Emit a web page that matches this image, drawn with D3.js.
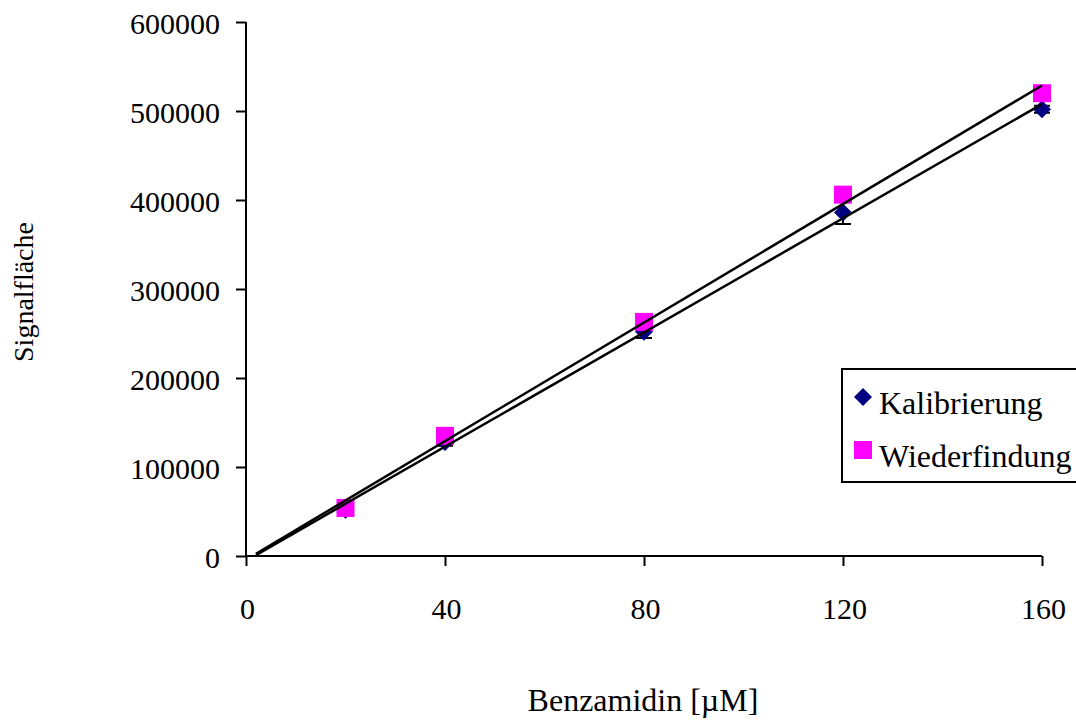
<!DOCTYPE html>
<html>
<head>
<meta charset="utf-8">
<script src="https://cdn.jsdelivr.net/npm/d3@7"></script>
<style>
  html, body { margin: 0; padding: 0; background: #fff; }
  svg text { font-family: "Liberation Serif", "Times New Roman", serif; font-size: 30px; fill: #000; }
</style>
</head>
<body>
<svg id="chart" width="1076" height="720"></svg>
<script>
// ---- data ----
const concentrations = [20, 40, 80, 120, 160];
const kalibrierung = [52000, 128000, 252000, 386000, 502000];
const kalibrierungErr = [3000, 4000, 7000, 13000, 4000];
const wiederfindung = [54000, 135000, 263000, 406000, 520000];
const trendX = [2, 160];
const trendKalibrierung = [1000, 507800];
const trendWiederfindung = [2500, 528700];
const xTicks = [0, 40, 80, 120, 160];
const yTicks = [0, 100000, 200000, 300000, 400000, 500000, 600000];
const seriesNames = ["Kalibrierung", "Wiederfindung"];
const seriesColors = ["#000080", "#FF00FF"];

const svg = d3.select("#chart");
const x = d3.scaleLinear().domain([0, 160]).range([246, 1042]);
const y = d3.scaleLinear().domain([0, 600000]).range([556, 22]);

// axes
const yAxis = svg.append("g").attr("transform", `translate(${x(0)},0)`)
  .call(d3.axisLeft(y).tickValues(yTicks).tickSize(10).tickPadding(0).tickFormat(d3.format("d")));
const xAxis = svg.append("g").attr("transform", `translate(0,${y(0)})`)
  .call(d3.axisBottom(x).tickValues(xTicks).tickSize(10).tickPadding(0).tickFormat(d3.format("d")));
[yAxis, xAxis].forEach(a => {
  a.attr("font-size", null).attr("font-family", null);
  a.select(".domain").attr("stroke", "#000").attr("stroke-width", 2);
  a.selectAll(".tick line").attr("stroke", "#000").attr("stroke-width", 2);
});
yAxis.select(".domain").attr("d", `M0,${y(600000)}V${y(0)}`);
xAxis.select(".domain").attr("d", `M${x(0)},0H${x(160)}`);
yAxis.selectAll(".tick text")
  .attr("x", -26).attr("dy", null).attr("y", 11)
  .attr("text-anchor", "end");
xAxis.selectAll(".tick text")
  .attr("x", 1).attr("dy", null).attr("y", 63)
  .attr("text-anchor", "middle");

// error bars (Kalibrierung)
const eb = svg.append("g");
concentrations.forEach((c, i) => {
  const cx = x(c), lo = y(kalibrierung[i] - kalibrierungErr[i]), hi = y(kalibrierung[i] + kalibrierungErr[i]);
  eb.append("path")
    .attr("d", `M${cx},${hi}V${lo}M${cx - 8},${lo}H${cx + 8}M${cx - 8},${hi}H${cx + 8}`)
    .attr("stroke", "#000").attr("stroke-width", 2).attr("fill", "none");
});

// diamonds
const diamond = d => `M0,${-d}L${d},0L0,${d}L${-d},0Z`;
svg.append("g").selectAll("path").data(concentrations).join("path")
  .attr("d", diamond(9))
  .attr("transform", (d, i) => `translate(${x(d)},${y(kalibrierung[i])})`)
  .attr("fill", seriesColors[0]);

// squares
svg.append("g").selectAll("rect").data(concentrations).join("rect")
  .attr("x", d => x(d) - 9).attr("y", (d, i) => y(wiederfindung[i]) - 9)
  .attr("width", 18).attr("height", 18)
  .attr("fill", seriesColors[1]);

// trend lines
const line = d3.line().x((d, i) => x(trendX[i])).y(d => y(d));
[trendKalibrierung, trendWiederfindung].forEach(t => {
  svg.append("path").attr("d", line(t)).attr("stroke", "#000").attr("stroke-width", 2.5).attr("fill", "none");
});

// axis titles
svg.append("text").attr("text-anchor", "middle").style("font-size", "32px")
  .attr("x", 643).attr("y", 711).text("Benzamidin [µM]");
svg.append("text").attr("text-anchor", "middle").style("font-size", "28px")
  .attr("transform", `translate(33,292) rotate(-90)`).text("Signalfläche");

// legend
const lg = svg.append("g");
lg.append("rect").attr("x", 842).attr("y", 369).attr("width", 260).attr("height", 113)
  .attr("fill", "#fff").attr("stroke", "#000").attr("stroke-width", 2);
lg.append("path").attr("d", diamond(9)).attr("transform", "translate(863,397)").attr("fill", seriesColors[0]);
lg.append("rect").attr("x", 854).attr("y", 441).attr("width", 18).attr("height", 18).attr("fill", seriesColors[1]);
seriesNames.forEach((n, i) => {
  lg.append("text").style("font-size", "32px").attr("x", 879).attr("y", 414 + i * 53).text(n);
});
</script>
</body>
</html>
